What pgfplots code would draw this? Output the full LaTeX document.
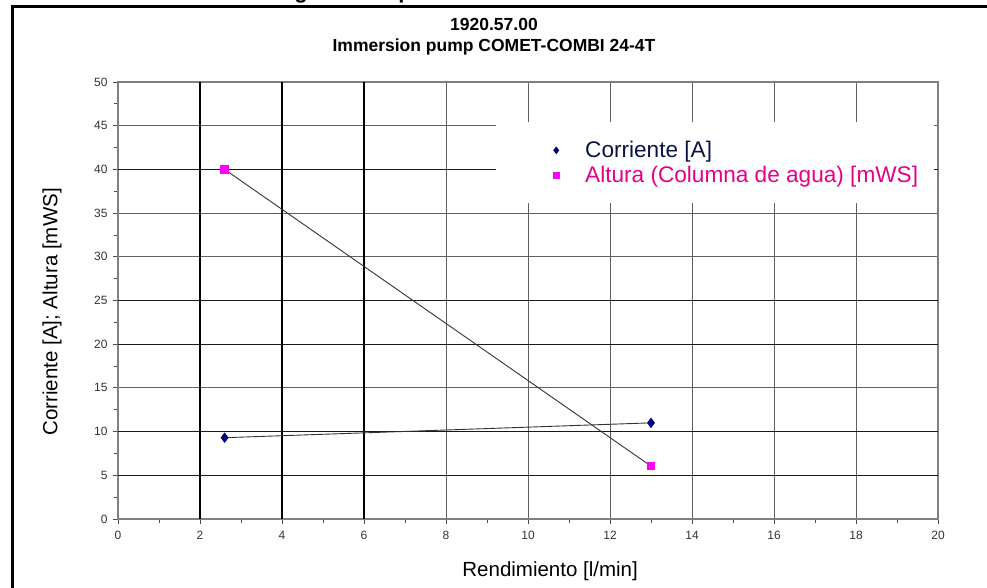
\documentclass[border=0pt]{standalone}
\usepackage{fontspec}
\setmainfont{Liberation Sans}
\usepackage{pgfplots}
\pgfplotsset{compat=1.18}
\definecolor{navyc}{RGB}{0,0,128}
\definecolor{navytxt}{RGB}{10,20,70}
\definecolor{mag}{RGB}{255,0,255}
\definecolor{pinktxt}{RGB}{228,0,140}
\begin{document}
\begin{tikzpicture}
\path[use as bounding box] (0pt,0pt) rectangle (987pt,588pt);
\begin{scope}
\clip (0pt,0pt) rectangle (987pt,588pt);
\draw[line width=2.2pt] (12.5pt,-10pt) -- (12.5pt,581.5pt) -- (1000pt,581.5pt);
\node[font=\bfseries\fontsize{22}{26}\selectfont, anchor=base] at (301pt,589.5pt) {g};
\node[font=\bfseries\fontsize{22}{26}\selectfont, anchor=base] at (405pt,589.5pt) {p};
\end{scope}
\node[font=\bfseries\fontsize{17.5}{20}\selectfont] at (494pt,564pt) {1920.57.00};
\node[font=\bfseries\fontsize{17.5}{20}\selectfont] at (494pt,541pt) {Immersion pump COMET-COMBI 24-4T};
\begin{scope}[shift={(118pt,69pt)}]
\begin{axis}[width=820pt, height=437pt, scale only axis,
  xmin=0, xmax=20, ymin=0, ymax=50,
  xtick={0,2,...,20}, ytick={0,5,...,50},
  minor x tick num=1, minor y tick num=1,
  xtick pos=bottom, ytick pos=left,
  tick align=outside, major tick length=5pt, minor tick length=4pt,
  grid=major,
  major grid style={black!62, line width=0.9pt},
  extra x ticks={2,4,6}, extra x tick labels={},
  extra x tick style={grid=major, major grid style={black, line width=1.05pt}, major tick length=0pt},
  extra y ticks={5,10,20,25,40}, extra y tick labels={},
  extra y tick style={grid=major, major grid style={black!90, line width=1.1pt}, major tick length=0pt},
  axis line style={black!50, line width=1.2pt},
  tick style={black!70, line width=0.8pt},
  tick label style={font=\fontsize{12}{14}\selectfont, text=black!80},
  xticklabel style={yshift=-4pt},
  yticklabel style={xshift=-2pt},
  /pgf/number format/assume math mode=true,
  xlabel={Rendimiento [l/min]}, ylabel={Corriente [A]; Altura [mWS]},
  label style={font=\fontsize{20.5}{24}\selectfont},
  xlabel style={at={(axis description cs:0.527,-0.119)}, anchor=center},
  ylabel style={at={(axis description cs:-0.0805,0.474)}, anchor=center},
  legend style={at={(0.461,0.908)}, anchor=north west, fill=white, draw=none,
    inner xsep=0pt, inner ysep=18pt, row sep=5pt,
    font=\fontsize{22.6}{26}\selectfont, nodes={inner xsep=0pt, inner ysep=1pt}},
  legend cell align=left,
  legend image code/.code={\path[draw=none,fill=none] (0pt,-6pt) rectangle (89pt,6pt); \draw[#1, mark size=3.2pt] plot coordinates {(60pt,0pt)};},
]
\addplot[color=black!80, line width=0.9pt, mark=diamond*, mark size=4.5pt, mark options={navyc, fill=navyc, solid}] coordinates {(2.6,9.3) (13,11)};
\addlegendentry{\textcolor{navytxt}{Corriente [A]}}
\addplot[color=black!80, line width=0.9pt, mark=square*, mark size=3.8pt, mark options={mag, fill=mag, solid}] coordinates {(2.6,40) (13,6.05)};
\addlegendentry{\textcolor{pinktxt}{Altura (Columna de agua) [mWS]}\hspace*{16pt}}
\end{axis}
\end{scope}
\end{tikzpicture}
\end{document}
